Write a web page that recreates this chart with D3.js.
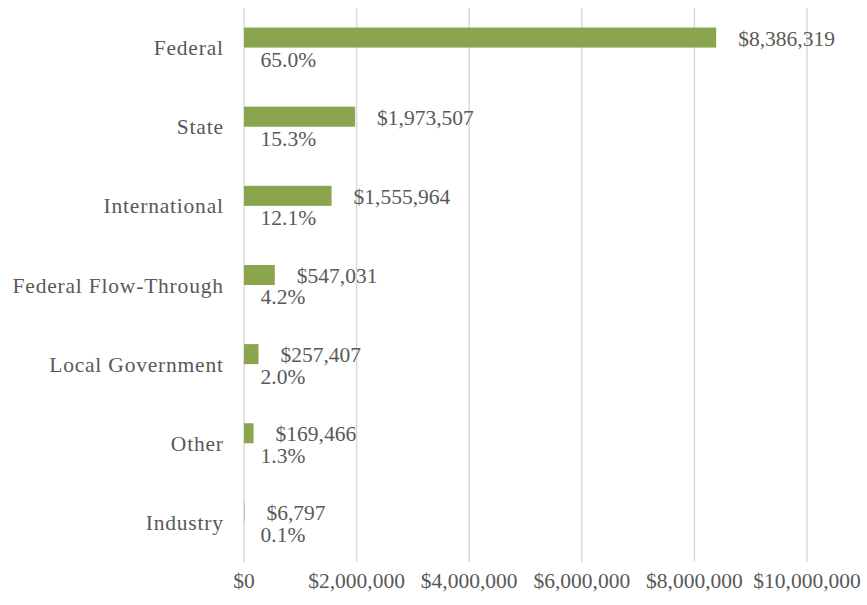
<!DOCTYPE html>
<html>
<head>
<meta charset="utf-8">
<script src="https://cdn.jsdelivr.net/npm/d3@7"></script>
<style>
  body { margin: 0; background: #fff; }
  text { font-family: "Liberation Serif", "DejaVu Serif", serif; fill: #595959; }
</style>
</head>
<body>
<script>
// funding sources
const categories = ["Federal", "State", "International", "Federal Flow-Through", "Local Government", "Other", "Industry"];
const amounts = [8386319, 1973507, 1555964, 547031, 257407, 169466, 6797];
const shares = ["65.0%", "15.3%", "12.1%", "4.2%", "2.0%", "1.3%", "0.1%"];
const ticks = [0, 2000000, 4000000, 6000000, 8000000, 10000000];

const width = 867, height = 605;
const plotLeft = 244, plotRight = 807, plotTop = 8, plotBottom = 562;

const svg = d3.select("body").append("svg")
    .attr("width", width).attr("height", height);

const x = d3.scaleLinear().domain([0, 10000000]).range([plotLeft, plotRight]);
const y = d3.scaleBand().domain(categories).range([plotTop, plotBottom])
    .paddingInner(0.494).paddingOuter(0.247);
// two slots per band: the bar, and the (empty) slot holding the share label
const slot = d3.scaleBand().domain([0, 1]).range([0, y.bandwidth()]);

const fmt = d3.format("$,");

// gridlines
svg.append("g").selectAll("line")
    .data(ticks)
    .join("line")
    .attr("x1", d => x(d)).attr("x2", d => x(d))
    .attr("y1", plotTop).attr("y2", plotBottom)
    .attr("stroke", "#d9d9d9")
    .attr("stroke-width", 1.5);

// x tick labels
svg.append("g").selectAll("text")
    .data(ticks)
    .join("text")
    .attr("x", d => x(d))
    .attr("y", 588)
    .attr("text-anchor", "middle")
    .style("font-size", "21.5px")
    .text(d => fmt(d));

// category labels (a bit of tracking to get closer to the wider Garamond)
svg.append("g").selectAll("text")
    .data(categories)
    .join("text")
    .attr("x", plotLeft - 20.2)
    .attr("y", d => y(d) + y.bandwidth() / 2 + 7.5)
    .attr("text-anchor", "end")
    .style("font-size", "21.5px")
    .style("letter-spacing", "0.8px")
    .text(d => d);

// bars
svg.append("g").selectAll("rect")
    .data(amounts)
    .join("rect")
    .attr("x", x(0))
    .attr("y", (d, i) => y(categories[i]) + slot(0))
    .attr("width", d => x(d) - x(0))
    .attr("height", slot.bandwidth())
    .attr("fill", "#8BA54E");

// value labels
svg.append("g").selectAll("text")
    .data(amounts)
    .join("text")
    .attr("x", d => x(d) + 22)
    .attr("y", (d, i) => y(categories[i]) + slot(0) + slot.bandwidth() / 2 + 8)
    .style("font-size", "21.5px")
    .text(d => fmt(d));

// share labels
svg.append("g").selectAll("text")
    .data(shares)
    .join("text")
    .attr("x", x(0) + 16.5)
    .attr("y", (d, i) => y(categories[i]) + slot(1) + slot.bandwidth() / 2 + 9.4)
    .style("font-size", "21.5px")
    .text(d => d);
</script>
</body>
</html>
